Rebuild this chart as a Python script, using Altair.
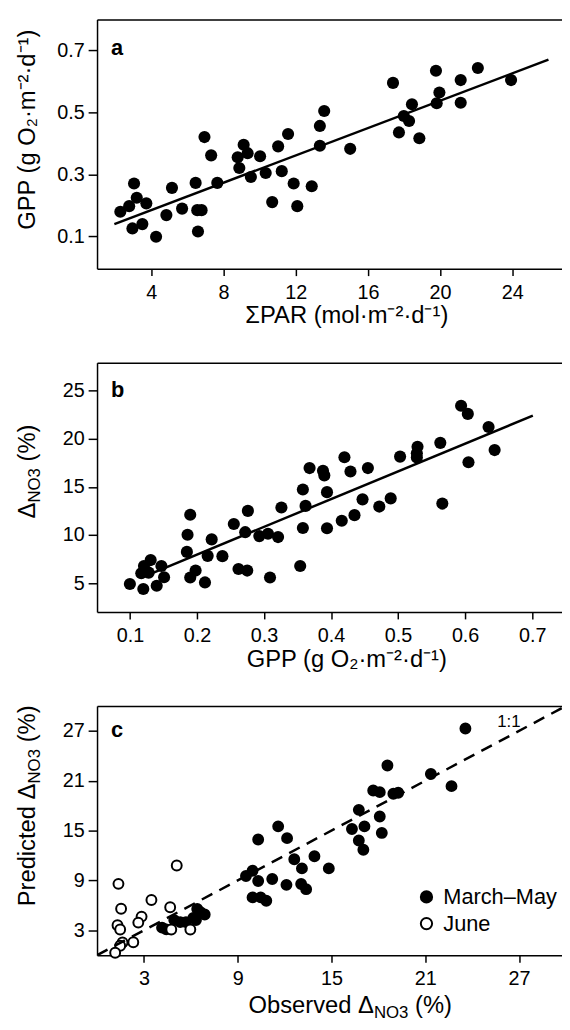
import altair as alt
import pandas as pd

FONT = "Liberation Sans"
W, H = 470, 252

# ---------------- Panel a ----------------
a_par = [2.29, 2.78, 3.05, 3.20, 3.73, 2.96, 3.51, 4.27, 4.84, 5.15, 5.71, 6.46, 6.55, 6.79, 6.59,
         6.95, 7.32, 7.66, 8.79, 8.88, 9.12, 9.34, 9.52, 10.03, 10.34, 10.70, 11.03, 11.23, 11.58,
         11.89, 12.09, 12.89, 13.34, 13.58, 13.34, 15.02, 17.39, 17.72, 17.99, 18.28, 18.44, 18.85,
         19.77, 19.96, 19.81, 21.14, 21.14, 22.09, 23.93]
a_gpp = [0.179, 0.197, 0.270, 0.224, 0.206, 0.125, 0.139, 0.098, 0.168, 0.256, 0.189, 0.272, 0.184,
         0.184, 0.115, 0.420, 0.361, 0.272, 0.355, 0.320, 0.395, 0.368, 0.291, 0.358, 0.304, 0.210,
         0.390, 0.310, 0.430, 0.270, 0.197, 0.261, 0.456, 0.504, 0.392, 0.382, 0.595, 0.435, 0.488,
         0.472, 0.526, 0.416, 0.634, 0.564, 0.529, 0.604, 0.531, 0.643, 0.604]
a_fit_x = [1.96, 26.0]
a_fit_y = [0.139, 0.670]
a_xticks = [4, 8, 12, 16, 20, 24]
a_yticks = [0.1, 0.3, 0.5, 0.7]

# ---------------- Panel b ----------------
b_gpp = [0.100, 0.120, 0.117, 0.121, 0.131, 0.128, 0.140, 0.147, 0.151, 0.185, 0.186, 0.190, 0.190,
         0.198, 0.212, 0.216, 0.222, 0.238, 0.255, 0.262, 0.272, 0.275, 0.276, 0.293, 0.306, 0.309,
         0.321, 0.326, 0.354, 0.358, 0.358, 0.362, 0.368, 0.388, 0.390, 0.394, 0.394, 0.416, 0.420,
         0.429, 0.435, 0.447, 0.455, 0.472, 0.489, 0.503, 0.528, 0.529, 0.528, 0.563, 0.566, 0.594,
         0.604, 0.605, 0.635, 0.644]
b_dno3 = [4.90, 4.39, 6.02, 6.77, 7.39, 6.09, 4.73, 6.77, 5.61, 8.24, 10.02, 12.10, 5.58, 6.30, 5.07,
          7.83, 9.54, 7.80, 11.14, 6.47, 10.29, 6.30, 12.50, 9.88, 10.12, 5.58, 9.78, 12.85, 6.77,
          14.73, 10.73, 13.02, 16.95, 16.67, 16.19, 14.45, 10.70, 11.48, 18.07, 16.60, 12.06, 13.70,
          16.95, 12.95, 13.80, 18.14, 18.04, 19.16, 18.48, 19.57, 13.26, 23.43, 22.58, 17.56, 21.21,
          18.82]
b_fit_x = [0.121, 0.701]
b_fit_y = [5.68, 22.4]
b_xticks = [0.1, 0.2, 0.3, 0.4, 0.5, 0.6, 0.7]
b_yticks = [5, 10, 15, 20, 25]

# ---------------- Panel c ----------------
c_mm_obs = [23.57, 18.58, 21.36, 22.68, 17.67, 18.09, 18.96, 19.27, 16.75, 18.09, 16.31, 17.11, 16.75,
            17.04, 18.22, 11.59, 10.31, 12.16, 12.62, 13.91, 13.11, 14.83, 9.53, 9.95, 10.31, 11.21,
            12.12, 13.06, 13.38, 9.95, 10.47, 10.83, 4.16, 4.43, 4.94, 5.32, 5.69, 6.16, 6.41, 6.62,
            6.89, 6.33]
c_mm_pred = [27.28, 22.84, 21.81, 20.35, 19.83, 19.63, 19.44, 19.55, 17.50, 16.70, 15.20, 15.51, 13.81,
             12.70, 14.72, 15.51, 13.93, 14.09, 11.55, 11.91, 10.45, 10.45, 9.53, 10.17, 8.94, 9.18,
             8.47, 8.58, 7.95, 6.96, 6.96, 6.56, 3.32, 3.12, 4.23, 3.99, 3.99, 4.50, 5.57, 5.18, 4.90,
             4.23]
c_jun_obs = [5.10, 1.37, 3.48, 1.54, 2.85, 2.64, 4.68, 1.31, 1.48, 1.63, 1.48, 2.32, 1.16, 4.75, 5.97]
c_jun_pred = [10.80, 8.59, 6.65, 5.60, 4.65, 3.93, 5.77, 3.61, 3.10, 1.53, 1.14, 1.56, 0.30, 3.10, 3.10]
c_seasons = ["March\u2013May", "June"]
c_ticks = [3, 9, 15, 21, 27]
c_one_to_one = [0, 30]
c_label = ["1:1"]
c_label_pos = [25.6, 27.5]


def one():
    return pd.DataFrame({"k": [0]})


def txt(text, x, y, size, angle=0, bold=False):
    return alt.Chart(one()).mark_text(
        text=text, fontSize=size, angle=angle, align="left", baseline="alphabetic",
        font=FONT, color="black", fontWeight="bold" if bold else "normal"
    ).encode(x=alt.value(x), y=alt.value(y))


def top_axis():
    return alt.Axis(orient="top", labels=False, ticks=False, title=None, domain=True,
                    minExtent=0, maxExtent=0, tickSize=0, labelPadding=0, offset=0)


TS = 24   # title font size
SS = 17   # subscript font size
SP = 0.278 * TS  # space width

# ---- a ----
sxa = alt.Scale(domain=[1, 26.75], nice=False, zero=False)
sya = alt.Scale(domain=[-0.005, 0.8], nice=False, zero=False)
ya_axis = alt.Axis(values=a_yticks, format=".1f",
                   title="GPP (g O\u2082\u00b7m\u207b\u00b2\u00b7d\u207b\u00b9)",
                   titleAngle=270, titleX=-63, titleY=111, titleAlign="center",
                   titleBaseline="alphabetic")
pts_a = alt.Chart(pd.DataFrame({"x": a_par, "y": a_gpp})).mark_circle(size=150, color="black", opacity=1).encode(
    x=alt.X("x:Q", scale=sxa, axis=alt.Axis(values=a_xticks, title="\u03a3PAR (mol\u00b7m\u207b\u00b2\u00b7d\u207b\u00b9)",
                                            titleX=252, titleY=54, titleAlign="center", titleBaseline="alphabetic")),
    y=alt.Y("y:Q", scale=sya, axis=ya_axis),
)
fit_a = alt.Chart(pd.DataFrame({"x": a_fit_x, "y": a_fit_y})).mark_line(color="black", strokeWidth=2.5).encode(
    x=alt.X("x:Q", scale=sxa, axis=top_axis()),
    y=alt.Y("y:Q", scale=sya, axis=ya_axis),
)
panel_a = alt.layer(pts_a, fit_a, txt("a", 14, 36, 22, bold=True)).resolve_axis(x="independent").properties(width=W, height=H)

# ---- b ----
sxb = alt.Scale(domain=[0.051, 0.7445], nice=False, zero=False)
syb = alt.Scale(domain=[2.0, 27.9], nice=False, zero=False)
yb_axis = alt.Axis(values=b_yticks, format="d", title=None)
pts_b = alt.Chart(pd.DataFrame({"x": b_gpp, "y": b_dno3})).mark_circle(size=150, color="black", opacity=1).encode(
    x=alt.X("x:Q", scale=sxb, axis=alt.Axis(values=b_xticks, format=".1f",
                                            title="GPP (g O\u2082\u00b7m\u207b\u00b2\u00b7d\u207b\u00b9)",
                                            titleX=252, titleY=55, titleAlign="center", titleBaseline="alphabetic")),
    y=alt.Y("y:Q", scale=syb, axis=yb_axis),
)
fit_b = alt.Chart(pd.DataFrame({"x": b_fit_x, "y": b_fit_y})).mark_line(color="black", strokeWidth=2.5).encode(
    x=alt.X("x:Q", scale=sxb, axis=top_axis()),
    y=alt.Y("y:Q", scale=syb, axis=yb_axis),
)
d_w = 0.668 * TS
no3_w = 2.056 * SS
pct_w = 1.555 * TS
yb0 = 110 + (d_w + no3_w + SP + pct_w) / 2
ytitle_b = [
    txt("\u0394", -63, yb0, TS, angle=270),
    txt("NO3", -58, yb0 - d_w, SS, angle=270),
    txt("(%)", -63, yb0 - d_w - no3_w - SP, TS, angle=270),
]
panel_b = alt.layer(pts_b, fit_b, txt("b", 14, 35, 22, bold=True), *ytitle_b).resolve_axis(x="independent").properties(width=W, height=H)

# ---- c ----
sxc = alt.Scale(domain=[0, 29.75], nice=False, zero=False)
syc = alt.Scale(domain=[0, 30], nice=False, zero=False)
yc_axis = alt.Axis(values=c_ticks, title=None)
dfc = pd.DataFrame({
    "obs": c_mm_obs + c_jun_obs,
    "pred": c_mm_pred + c_jun_pred,
    "season": [c_seasons[0]] * len(c_mm_obs) + [c_seasons[1]] * len(c_jun_obs),
})
pts_c = alt.Chart(dfc).mark_point(shape="circle", filled=True, size=100, stroke="black", strokeWidth=2, opacity=1).encode(
    x=alt.X("obs:Q", scale=sxc, axis=alt.Axis(values=c_ticks, title=None)),
    y=alt.Y("pred:Q", scale=syc, axis=yc_axis),
    fill=alt.Fill("season:N", scale=alt.Scale(domain=c_seasons, range=["black", "white"]),
                  legend=alt.Legend(title=None, orient="none", legendX=322, legendY=182, symbolType="circle",
                                    symbolSize=130, symbolStrokeColor="black", symbolStrokeWidth=2,
                                    labelFont=FONT, labelFontSize=22, labelColor="black", labelOffset=6,
                                    rowPadding=5, padding=0)),
    order=alt.Order("season:N", sort="descending"),
)
line_c = alt.Chart(pd.DataFrame({"x": c_one_to_one, "y": c_one_to_one})).mark_line(
    color="black", strokeWidth=2.5, strokeDash=[12, 8], clip=True).encode(
    x=alt.X("x:Q", scale=sxc, axis=top_axis()),
    y=alt.Y("y:Q", scale=syc, axis=yc_axis),
)
lab_c = alt.Chart(pd.DataFrame({"x": [c_label_pos[0]], "y": [c_label_pos[1]], "t": c_label})).mark_text(
    fontSize=17, font=FONT, align="left", baseline="alphabetic", color="black").encode(
    x=alt.X("x:Q", scale=sxc, axis=None),
    y=alt.Y("y:Q", scale=syc, axis=yc_axis),
    text="t:N",
)
obs_w = 5.28 * TS
x0 = 256 - (obs_w + no3_w + SP + pct_w) / 2
xtitle_c = [
    txt("Observed \u0394", x0, 310, TS),
    txt("NO3", x0 + obs_w, 315, SS),
    txt("(%)", x0 + obs_w + no3_w + SP, 310, TS),
]
pr_w = 5.17 * TS
yc0 = 101 + (pr_w + no3_w + SP + pct_w) / 2
ytitle_c = [
    txt("Predicted \u0394", -63, yc0, TS, angle=270),
    txt("NO3", -58, yc0 - pr_w, SS, angle=270),
    txt("(%)", -63, yc0 - pr_w - no3_w - SP, TS, angle=270),
]
panel_c = alt.layer(pts_c, line_c, lab_c, txt("c", 14, 31, 22, bold=True), *xtitle_c, *ytitle_c).resolve_axis(
    x="independent").properties(width=W, height=H)

chart = alt.vconcat(panel_a, panel_b, panel_c, spacing=95, bounds="flush").resolve_scale(
    fill="independent"
).properties(
    padding={"left": 7, "top": 6, "right": 0, "bottom": 0}
).configure_view(stroke=None).configure_axis(
    labelFont=FONT, labelFontSize=20, labelColor="black",
    titleFont=FONT, titleFontSize=TS, titleFontWeight="normal", titleColor="black",
    domainColor="black", domainWidth=1.5, tickColor="black", tickWidth=1.5,
    grid=False, labelFlush=False, labelOverlap=False,
).configure_axisX(tickSize=7, labelPadding=7).configure_axisY(tickSize=9, labelPadding=4)

chart.save("out.html", embed_options={"renderer": "svg", "actions": False})
